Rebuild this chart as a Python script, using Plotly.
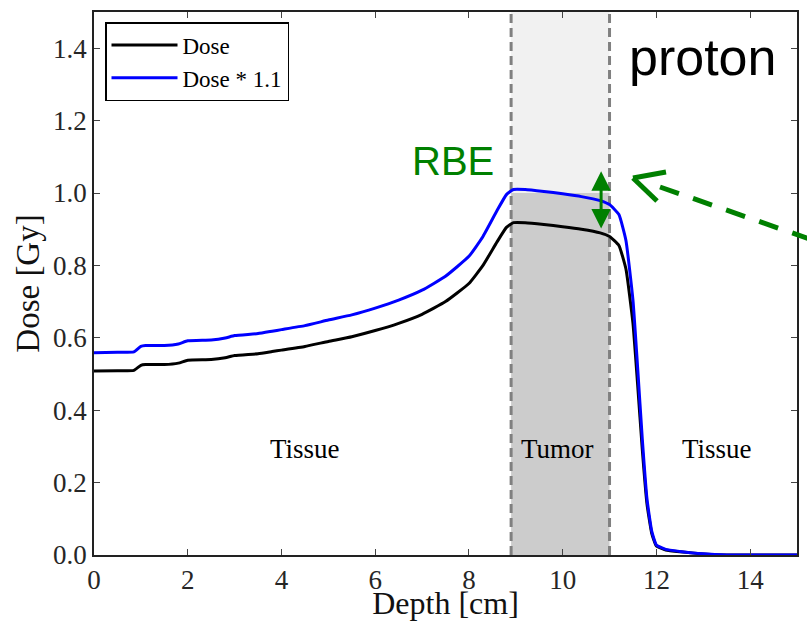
import plotly.graph_objects as go

# Depth-dose profile (cm, Gy)
depth = [0.0, 0.5, 0.85, 1.0, 1.1, 1.5, 1.8, 2.0, 2.5, 2.8, 3.0, 3.5, 3.8, 4.0,
         4.5, 5.0, 5.5, 6.0, 6.5, 7.0, 7.5, 8.0, 8.3, 8.6, 8.8, 8.95, 9.2, 9.6,
         10.0, 10.4, 10.8, 11.0, 11.2, 11.35, 11.5, 11.6, 11.7, 11.8, 11.9,
         12.0, 12.2, 12.5, 13.0, 13.5, 15.0]
dose = [0.508, 0.509, 0.510, 0.524, 0.526, 0.526, 0.530, 0.538, 0.540, 0.545,
        0.551, 0.556, 0.562, 0.566, 0.576, 0.590, 0.603, 0.620, 0.640, 0.665,
        0.700, 0.750, 0.800, 0.865, 0.905, 0.918, 0.918, 0.913, 0.907, 0.900,
        0.890, 0.880, 0.855, 0.790, 0.640, 0.470, 0.290, 0.140, 0.060, 0.025,
        0.014, 0.009, 0.003, 0.000, 0.000]
rbe = 1.1
dose_rbe = [d * rbe for d in dose]

tumor_start, tumor_end = 8.9, 11.0
region_labels = ["Tissue", "Tumor", "Tissue"]
region_x = [4.5, 9.9, 13.3]
region_y = 0.293

x_ticks = [0, 2, 4, 6, 8, 10, 12, 14]
y_ticks = [0.0, 0.2, 0.4, 0.6, 0.8, 1.0, 1.2, 1.4]

GREEN = "#008000"
SERIF = "Liberation Serif"

fig = go.Figure()
fig.add_trace(go.Scatter(x=depth, y=dose, mode="lines", name="Dose",
                         line=dict(color="black", width=3, shape="spline", smoothing=0.4)))
fig.add_trace(go.Scatter(x=depth, y=dose_rbe, mode="lines", name="Dose * 1.1",
                         line=dict(color="#0000ff", width=3, shape="spline", smoothing=0.4)))

# tumor band
fig.add_shape(type="rect", x0=tumor_start, x1=tumor_end, y0=1.0, y1=1.5,
              fillcolor="#f1f1f1", line_width=0, layer="below")
fig.add_shape(type="rect", x0=tumor_start, x1=tumor_end, y0=0.0, y1=1.0,
              fillcolor="#cccccc", line_width=0, layer="below")
for xv in (tumor_start, tumor_end):
    fig.add_shape(type="line", x0=xv, x1=xv, y0=0, y1=1.5, layer="below",
                  line=dict(color="#808080", width=3, dash="9px,5px"))

for txt, xv in zip(region_labels, region_x):
    fig.add_annotation(x=xv, y=region_y, text=txt, showarrow=False,
                       font=dict(family=SERIF, size=27, color="black"))

fig.add_annotation(x=12.99, y=1.377, text="proton", showarrow=False,
                   font=dict(family="Liberation Sans", size=52, color="black"))
fig.add_annotation(x=7.65, y=1.0875, text="RBE", showarrow=False,
                   font=dict(family="Liberation Sans", size=40, color=GREEN))

# RBE double arrow between the two curves
fig.add_annotation(x=10.82, y=0.902, ax=10.82, ay=1.064, axref="x", ayref="y",
                   text="", showarrow=True, arrowhead=2, startarrowhead=2,
                   arrowside="end+start", arrowwidth=3, arrowsize=1.3,
                   startarrowsize=1.3, arrowcolor=GREEN, standoff=0, startstandoff=0)

# dashed pointer arrow coming from the right (pixel -> paper helpers)
L, R, T, B = 94, 797, 12, 555
def px(p):
    return (p - L) / (R - L)
def py(q):
    return (B - q) / (B - T)

tip = (633, 178)
fig.add_shape(type="line", xref="paper", yref="paper",
              x0=px(660), y0=py(187), x1=px(850), y1=py(253),
              line=dict(color=GREEN, width=5, dash="20px,15px"))
for arm in [(666, 172), (657, 201)]:
    fig.add_shape(type="line", xref="paper", yref="paper",
                  x0=px(tip[0]), y0=py(tip[1]), x1=px(arm[0]), y1=py(arm[1]),
                  line=dict(color=GREEN, width=5))

axis_common = dict(showline=True, linecolor="#222222", linewidth=1.5, mirror="ticks",
                   ticks="inside", ticklen=6, tickwidth=1, tickcolor="#444444",
                   showgrid=False, zeroline=False,
                   tickfont=dict(family=SERIF, size=27, color="#262626"))

fig.update_xaxes(range=[0, 15], tickvals=x_ticks, ticktext=[str(v) for v in x_ticks],
                 title=dict(text="Depth [cm]", font=dict(family=SERIF, size=32, color="#111111"),
                            standoff=7),
                 **axis_common)
fig.update_yaxes(range=[0, 1.5], tickvals=y_ticks, ticktext=[f"{v:.1f}" for v in y_ticks],
                 title=dict(text="Dose [Gy]", font=dict(family=SERIF, size=33, color="#111111"),
                            standoff=4),
                 **axis_common)

fig.update_layout(
    width=807, height=621,
    margin=dict(l=L, r=807 - R, t=T, b=621 - B, autoexpand=False),
    paper_bgcolor="white", plot_bgcolor="white",
    showlegend=True,
    legend=dict(x=px(105), y=py(22), xanchor="left", yanchor="top",
                bgcolor="white", bordercolor="black", borderwidth=1.5,
                font=dict(family=SERIF, size=23, color="black"),
                itemwidth=66, tracegroupgap=0),
)

fig.write_html("out.html")
